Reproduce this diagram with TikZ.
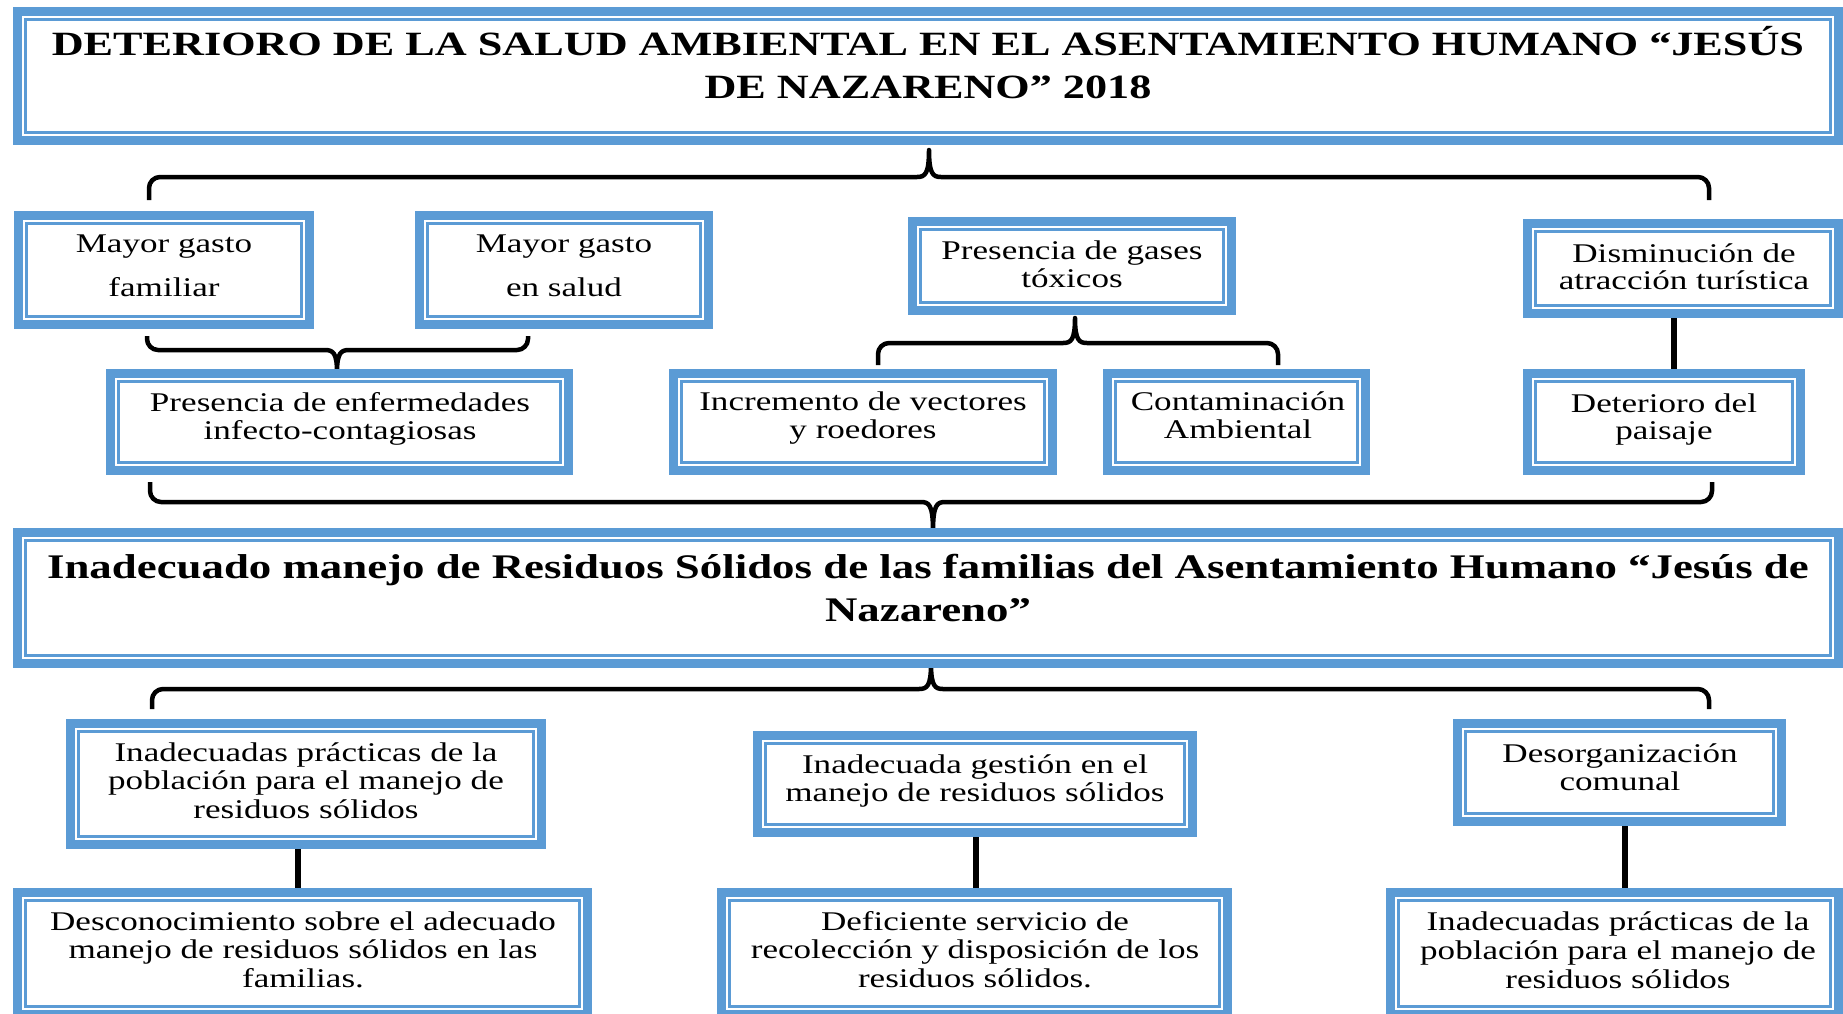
\documentclass[tikz,border=0pt]{standalone}
\usepackage{fontspec}
\setmainfont{Liberation Serif}[FakeStretch=1.3]
\usetikzlibrary{calc}
\definecolor{bblue}{HTML}{5B9BD5}
\pgfdeclarelayer{bg}
\pgfsetlayers{bg,main}
\tikzset{
  bx/.style={draw=bblue, line width=9pt, fill=white, inner sep=0pt, outer sep=0pt,
    path picture={\draw[bblue, line width=2.5pt] ([shift={(7.8pt,7.8pt)}]path picture bounding box.south west) rectangle ([shift={(-7.8pt,-7.8pt)}]path picture bounding box.north east);}},
  tx/.style={inner sep=0pt, align=center, anchor=north, text=black},
  brc/.style={line width=4.5pt, line join=round, black},
  ln/.style={line width=6pt, black},
}
% box: name, x1, y1, x2, y2 (outer edges, px, y downwards)
\newcommand\mybox[5]{\node[bx, minimum width=#4-#2-9, minimum height=#5-#3-9] (#1) at ({(#2+#4)/2},{(#3+#5)/2}) {};}
% text: name, x, first baseline, size, skip, font extra, text
\newcommand\mytext[7]{\node[tx, font=\fontsize{#4}{#5}\selectfont#6] (#1) at (#2,#3-#4) {\rule{0pt}{#4pt}#7};}
% brace with ends down, cusp up
\newcommand\braceup[6]{\draw[brc] (#1,#4) -- (#1,#5+11) .. controls (#1,#5+5) and (#1+5,#5) .. (#1+11,#5) -- (#3-12,#5) .. controls (#3-4,#5) and (#3,#5-3) .. (#3,#6) .. controls (#3,#5-3) and (#3+4,#5) .. (#3+12,#5) -- (#2-11,#5) .. controls (#2-5,#5) and (#2,#5+5) .. (#2,#5+11) -- (#2,#4);}
% brace with ends up, cusp down
\newcommand\bracedn[6]{\draw[brc] (#1,#4) -- (#1,#5-11) .. controls (#1,#5-5) and (#1+5,#5) .. (#1+11,#5) -- (#3-12,#5) .. controls (#3-4,#5) and (#3,#5+3) .. (#3,#6) .. controls (#3,#5+3) and (#3+4,#5) .. (#3+12,#5) -- (#2-11,#5) .. controls (#2-5,#5) and (#2,#5-5) .. (#2,#5-11) -- (#2,#4);}
\begin{document}
\begin{tikzpicture}[x=1pt,y=-1pt]
\useasboundingbox (0,0) rectangle (1843,1013);
\clip (0,0) rectangle (1843,1013);

% boxes
\mybox{T}{13}{7}{1843}{145}
\mybox{B1}{14}{211}{314}{329}
\mybox{B2}{415}{211}{713}{329}
\mybox{B3}{908}{217}{1236}{315}
\mybox{B4}{1523}{219}{1843}{318}
\mybox{C1}{106}{369}{573}{475}
\mybox{C2}{669}{369}{1057}{475}
\mybox{C3}{1103}{369}{1370}{475}
\mybox{C4}{1523}{369}{1805}{475}
\mybox{M}{13}{528}{1843}{668}
\mybox{D1}{66}{719}{546}{849}
\mybox{D2}{753}{731}{1197}{837}
\mybox{D3}{1453}{719}{1786}{826}
\mybox{E1}{13}{888}{592}{1019}
\mybox{E2}{717}{888}{1232}{1019}
\mybox{E3}{1386}{888}{1843}{1019}

% texts
\mytext{tT}{928}{55}{34}{43}{\bfseries}{DETERIORO DE LA SALUD AMBIENTAL EN EL ASENTAMIENTO HUMANO “JESÚS\\DE NAZARENO” 2018}
\mytext{tB1}{164}{252}{27}{44}{}{Mayor gasto\\familiar}
\mytext{tB2}{564}{252}{27}{44}{}{Mayor gasto\\en salud}
\mytext{tB3}{1072}{259}{27}{28}{}{Presencia de gases\\tóxicos}
\mytext{tB4}{1684}{262}{27}{27}{}{Disminución de\\atracción turística}
\mytext{tC1}{340}{411}{27}{28}{}{Presencia de enfermedades\\infecto-contagiosas}
\mytext{tC2}{863}{410}{27}{28}{}{Incremento de vectores\\y roedores}
\mytext{tC3}{1238}{410}{27}{28}{}{Contaminación\\Ambiental}
\mytext{tC4}{1664}{412}{27}{27}{}{Deterioro del\\paisaje}
\mytext{tM}{928}{578}{34.5}{43}{\bfseries}{Inadecuado manejo de Residuos Sólidos de las familias del Asentamiento Humano “Jesús de\\Nazareno”}
\mytext{tD1}{306}{761}{27}{28.5}{}{Inadecuadas prácticas de la\\población para el manejo de\\residuos sólidos}
\mytext{tD2}{975}{773}{27}{28}{}{Inadecuada gestión en el\\manejo de residuos sólidos}
\mytext{tD3}{1620}{762}{27}{28}{}{Desorganización\\comunal}
\mytext{tE1}{303}{930}{27}{28.5}{}{Desconocimiento sobre el adecuado\\manejo de residuos sólidos en las\\familias.}
\mytext{tE2}{975}{930}{27}{28.5}{}{Deficiente servicio de\\recolección y disposición de los\\residuos sólidos.}
\mytext{tE3}{1618}{930}{27}{29}{}{Inadecuadas prácticas de la\\población para el manejo de\\residuos sólidos}

% connectors
\coordinate (x4) at (1674,0);
\coordinate (xd1) at (298,0);
\coordinate (xd2) at (976,0);
\coordinate (xd3) at (1625,0);
\begin{pgfonlayer}{bg}
\fill[white] (0,0) rectangle (1843,1013);
\braceup{149}{1709}{929}{200}{177}{150}
\bracedn{147}{528}{337}{336}{350}{372}
\braceup{878}{1278}{1075}{365}{343}{318}
\bracedn{150}{1712}{933}{482}{502}{531}
\braceup{152}{1709}{931}{709}{689}{664}
\draw[ln] (B4.south -| x4) -- (C4.north -| x4);
\draw[ln] (D1.south -| xd1) -- (E1.north -| xd1);
\draw[ln] (D2.south -| xd2) -- (E2.north -| xd2);
\draw[ln] (D3.south -| xd3) -- (E3.north -| xd3);
\end{pgfonlayer}
\end{tikzpicture}
\end{document}
